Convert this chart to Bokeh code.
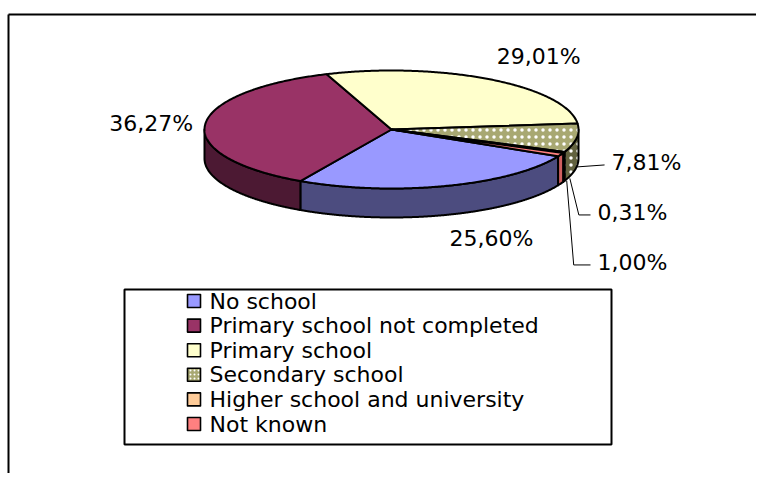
import numpy as np
from bokeh.plotting import figure
from bokeh.models import Range1d
from bokeh.core.properties import value
from bokeh.embed import file_html
from bokeh.resources import INLINE

# ---------------- data ----------------
categories = ["No school", "Primary school not completed", "Primary school",
              "Secondary school", "Higher school and university", "Not known"]
shares = [25.60, 36.27, 29.01, 7.81, 0.31, 1.00]
share_labels = ["25,60%", "36,27%", "29,01%", "7,81%", "0,31%", "1,00%"]

# ---------------- styles ----------------
top_colors = ["#9999FF", "#993366", "#FFFFCC", "#A8A872", "#FFCC99", "#FF8080"]
side_colors = ["#4C4C7F", "#4C1933", "#7F7F66", "#62623F", "#A07850", "#D06060"]
hatched = [False, False, False, True, False, False]

FONT = "DejaVu Sans"
CX, CY, RA, RB, DEPTH = 391.0, 129.0, 187.0, 59.0, 29.0
START = -27.0          # math degrees; slices run clockwise
GAP = 12.0
W, H = 756, 473

p = figure(width=W, height=H, output_backend="svg", toolbar_location=None,
           x_range=Range1d(0, W), y_range=Range1d(H, 0),
           min_border=0, min_border_left=0, min_border_right=0,
           min_border_top=0, min_border_bottom=0)
p.axis.visible = False
p.xgrid.visible = False
p.ygrid.visible = False
p.outline_line_color = None
p.background_fill_color = "white"
p.border_fill_color = "white"

# outer chart frame (top and left edges)
p.line([8, W], [14, 14], line_color="black", line_width=2)
p.line([8, 8], [14, H], line_color="black", line_width=2)


def ex(t):
    return CX + RA * np.cos(np.radians(t))


def ey(t):
    return CY - RB * np.sin(np.radians(t))


fr = np.array(shares) / np.sum(shares)
starts = START - 360.0 * np.concatenate([[0], np.cumsum(fr)[:-1]])
ends = starts - 360.0 * fr


def style(i):
    kw = dict(fill_color=top_colors[i], line_color="black", line_width=2,
              line_join="round")
    if hatched[i]:
        kw.update(hatch_pattern="dot", hatch_color="white", hatch_scale=7,
                  hatch_weight=2)
    return kw


# side bands (front half only)
for i in range(len(shares)):
    s, e = starts[i], ends[i]
    ts = list(np.arange(s, e, -0.25)) + [e]
    k0, k1 = int(np.floor(e / 180.0)), int(np.ceil(s / 180.0))
    ts += [180.0 * k for k in range(k0, k1 + 1) if e < 180.0 * k < s]
    ts = np.array(sorted(set(ts), reverse=True))
    front = np.sin(np.radians(ts)) <= 1e-9
    runs, cur = [], []
    for t, f in zip(ts, front):
        if f:
            cur.append(t)
        elif cur:
            runs.append(cur)
            cur = []
    if cur:
        runs.append(cur)
    for r in runs:
        if len(r) < 2:
            continue
        r = np.array(r)
        xs = list(ex(r)) + list(ex(r[::-1]))
        ys = list(ey(r)) + list(ey(r[::-1]) + DEPTH)
        kw = style(i)
        kw["fill_color"] = side_colors[i]
        p.patch(xs, ys, **kw)

# top faces
for i in range(len(shares)):
    s, e = starts[i], ends[i]
    n = max(3, int(abs(s - e) * 2))
    ts = np.linspace(s, e, n)
    xs = [CX] + list(ex(ts))
    ys = [CY] + list(ey(ts))
    p.patch(xs, ys, **style(i))

# data labels
small_step = 50.0
small_idx = 0
small_y0 = None
for i in range(len(shares)):
    m = (starts[i] + ends[i]) / 2.0
    c, sn = np.cos(np.radians(m)), np.sin(np.radians(m))
    px, py = ex(m), ey(m) + (DEPTH if sn < 0 else 0.0)
    if fr[i] >= 0.10:
        tx, ty = px + GAP * c, py - GAP * sn
        align = "left" if c > 0.15 else ("right" if c < -0.15 else "center")
        base = "bottom" if sn > 0.3 else ("top" if sn < -0.3 else "middle")
        p.text(x=[tx], y=[ty], text=[share_labels[i]], text_align=align,
               text_baseline=base, text_font=value(FONT),
               text_font_size="22px", text_color="black")
    else:
        if small_idx == 0:
            small_y0 = py - 2
            lx = [px, px + 28]
            ly = [py, py - 2]
            tx, ty = px + 35, py - 4
        else:
            ly_lab = small_y0 + small_step * small_idx
            lx = [px + 6, px + 17 - 2 * small_idx, 590]
            ly = [py - 3, ly_lab, ly_lab]
            tx, ty = 597, ly_lab - 2
        p.line(lx, ly, line_color="black", line_width=1)
        p.text(x=[tx], y=[ty], text=[share_labels[i]], text_align="left",
               text_baseline="middle", text_font=value(FONT),
               text_font_size="22px", text_color="black")
        small_idx += 1

# legend (drawn as a box with swatches and labels)
LX0, LX1, LY0, LY1 = 124, 611, 289, 444
ROW0, ROWH = 300.5, 24.6
p.quad(left=[LX0], right=[LX1], top=[LY0], bottom=[LY1], fill_color="white",
       line_color="black", line_width=2)
rows = [ROW0 + ROWH * k for k in range(len(categories))]
for k in range(len(categories)):
    kw = style(k)
    kw["hatch_scale"] = 4
    kw["hatch_weight"] = 1
    kw["line_width"] = 1.6
    p.quad(left=[187], right=[200], top=[rows[k] - 6.5], bottom=[rows[k] + 6.5], **kw)
p.text(x=[209] * len(categories), y=rows, text=categories, text_align="left",
       text_baseline="middle", text_font=value(FONT), text_font_size="22px",
       text_color="black")

open("out.html", "w").write(file_html(p, INLINE))
